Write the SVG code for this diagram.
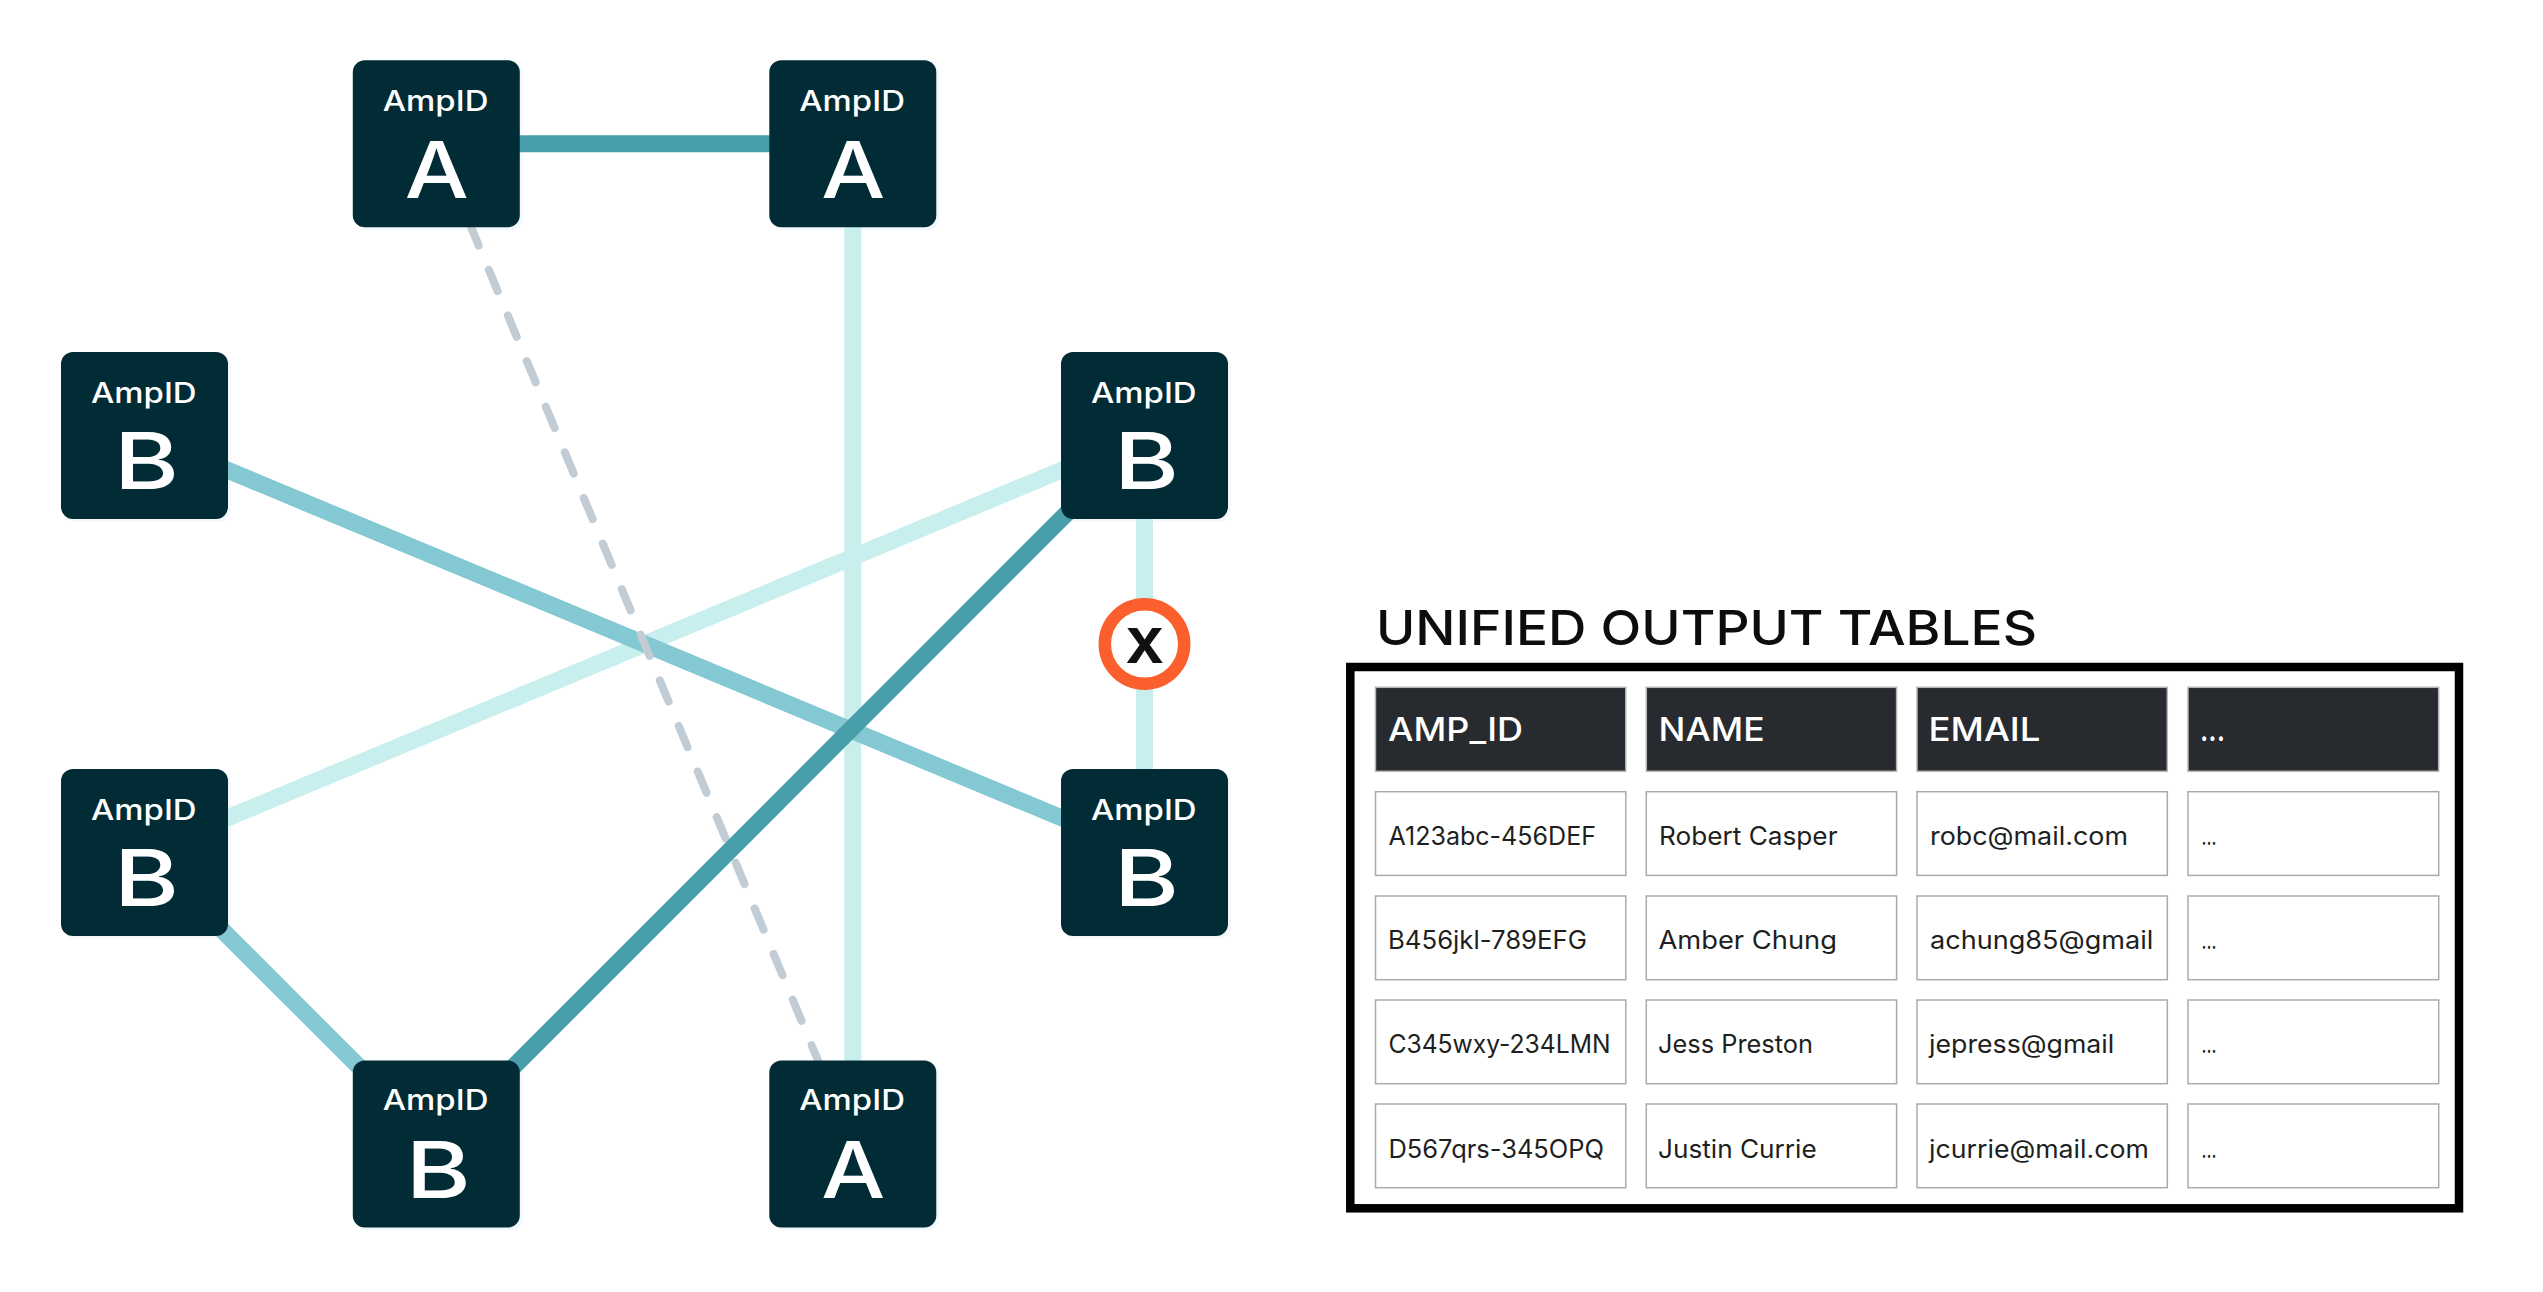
<svg xmlns="http://www.w3.org/2000/svg" width="2543" height="1292" viewBox="0 0 2543 1292">
<style>
text{font-family:"Inter","Liberation Sans",sans-serif}
.c{fill:none;stroke-width:17}
.dk{stroke:#489eab}.md{stroke:#83c8d2}.lt{stroke:#c8efed}
.ds{stroke:#c2ccd5;stroke-width:8;stroke-linecap:round;stroke-dasharray:23 26.4;stroke-dashoffset:-37.9;fill:none}
.n{fill:#022c35}.sh{fill:#f4f8fa}
.l1{fill:#fff;font-size:28px;font-weight:500;text-anchor:middle}
.l2{fill:#fff;font-size:79px;font-weight:500;text-anchor:middle}
.box{fill:none;stroke:#000;stroke-width:8.5}
.hc{fill:#272b2f;stroke:#b5b5b5;stroke-width:1.5}
.bc{fill:#fff;stroke:#aaa;stroke-width:1.5}
.ht{fill:#fff;font-size:33px;font-weight:500}
.bt{fill:#1d1f21;font-size:25px;font-weight:400}
.tt{fill:#0d0d0d;font-size:48px;font-weight:550}
</style>
<rect width="2543" height="1292" fill="#fff"/>
<g id="node-shadows">
<rect class="sh" x="355.8" y="63.3" width="167" height="167" rx="12"/><rect class="sh" x="772.3" y="63.3" width="167" height="167" rx="12"/><rect class="sh" x="64" y="355" width="167" height="167" rx="12"/><rect class="sh" x="1064" y="355" width="167" height="167" rx="12"/><rect class="sh" x="64" y="772" width="167" height="167" rx="12"/><rect class="sh" x="1064" y="772" width="167" height="167" rx="12"/><rect class="sh" x="355.8" y="1063.5" width="167" height="167" rx="12"/><rect class="sh" x="772.3" y="1063.5" width="167" height="167" rx="12"/>
</g>
<g id="connectors">
<line class="c lt" x1="852.8" y1="143.7" x2="852.8" y2="1144"/>
<line class="c lt" x1="144.5" y1="852.5" x2="1144.5" y2="435.5"/>
<line class="c lt" x1="1144.5" y1="435.5" x2="1144.5" y2="852.5"/>
<line class="c md" x1="144.5" y1="435.5" x2="1144.5" y2="852.5"/>
<line class="c md" x1="144.5" y1="852.5" x2="436.3" y2="1144"/>
<line class="ds" x1="436.3" y1="143.7" x2="852.8" y2="1144"/>
<line class="c dk" x1="436.3" y1="143.7" x2="852.8" y2="143.7"/>
<line class="c dk" x1="1144.5" y1="435.5" x2="436.3" y2="1144"/>
</g>
<g id="node-a1"><rect class="n" x="352.8" y="60.3" width="167" height="167" rx="12"/><text class="l1" x="435.6" y="110.5" textLength="105.6" lengthAdjust="spacingAndGlyphs">AmpID</text><text class="l2" x="436.8" y="197.7" textLength="64" lengthAdjust="spacingAndGlyphs">A</text></g>
<g id="node-a2"><rect class="n" x="769.3" y="60.3" width="167" height="167" rx="12"/><text class="l1" x="852.1" y="110.5" textLength="105.6" lengthAdjust="spacingAndGlyphs">AmpID</text><text class="l2" x="853.3" y="197.7" textLength="64" lengthAdjust="spacingAndGlyphs">A</text></g>
<g id="node-b1"><rect class="n" x="61" y="352" width="167" height="167" rx="12"/><text class="l1" x="143.8" y="402.5" textLength="105.6" lengthAdjust="spacingAndGlyphs">AmpID</text><text class="l2" x="146.5" y="489.3" textLength="65" lengthAdjust="spacingAndGlyphs">B</text></g>
<g id="node-b2"><rect class="n" x="1061" y="352" width="167" height="167" rx="12"/><text class="l1" x="1143.8" y="402.5" textLength="105.6" lengthAdjust="spacingAndGlyphs">AmpID</text><text class="l2" x="1146.5" y="489.3" textLength="65" lengthAdjust="spacingAndGlyphs">B</text></g>
<g id="node-b3"><rect class="n" x="61" y="769" width="167" height="167" rx="12"/><text class="l1" x="143.8" y="819.5" textLength="105.6" lengthAdjust="spacingAndGlyphs">AmpID</text><text class="l2" x="146.5" y="906.3" textLength="65" lengthAdjust="spacingAndGlyphs">B</text></g>
<g id="node-b4"><rect class="n" x="1061" y="769" width="167" height="167" rx="12"/><text class="l1" x="1143.8" y="819.5" textLength="105.6" lengthAdjust="spacingAndGlyphs">AmpID</text><text class="l2" x="1146.5" y="906.3" textLength="65" lengthAdjust="spacingAndGlyphs">B</text></g>
<g id="node-b5"><rect class="n" x="352.8" y="1060.5" width="167" height="167" rx="12"/><text class="l1" x="435.6" y="1110.4" textLength="105.6" lengthAdjust="spacingAndGlyphs">AmpID</text><text class="l2" x="438.3" y="1197.7" textLength="65" lengthAdjust="spacingAndGlyphs">B</text></g>
<g id="node-a3"><rect class="n" x="769.3" y="1060.5" width="167" height="167" rx="12"/><text class="l1" x="852.1" y="1110.4" textLength="105.6" lengthAdjust="spacingAndGlyphs">AmpID</text><text class="l2" x="853.3" y="1197.7" textLength="64" lengthAdjust="spacingAndGlyphs">A</text></g>
<g id="break-x"><circle cx="1144.5" cy="644" r="39.7" fill="#fff" stroke="#fb5f2e" stroke-width="12.5"/><text x="1144.8" y="662.7" text-anchor="middle" font-size="66" font-weight="700" fill="#111" style="font-family:'Liberation Sans',sans-serif" textLength="37" lengthAdjust="spacingAndGlyphs">x</text></g>
<g id="table">
<text class="tt" x="1376" y="645" textLength="661" lengthAdjust="spacingAndGlyphs">UNIFIED OUTPUT TABLES</text>
<rect class="box" x="1350.3" y="667" width="1108.7" height="541.3"/>
<rect class="hc" x="1375.5" y="687.3" width="250.3" height="84"/><rect class="hc" x="1646.3" y="687.3" width="250.3" height="84"/><rect class="hc" x="1917" y="687.3" width="250.3" height="84"/><rect class="hc" x="2188" y="687.3" width="250.7" height="84"/>
<text class="ht" x="1388" y="741" textLength="135" lengthAdjust="spacingAndGlyphs">AMP_ID</text><text class="ht" x="1658.6" y="741" textLength="106" lengthAdjust="spacingAndGlyphs">NAME</text><text class="ht" x="1928.5" y="741" textLength="112" lengthAdjust="spacingAndGlyphs">EMAIL</text><text class="ht" x="2200" y="741" textLength="25" lengthAdjust="spacingAndGlyphs">...</text>
<rect class="bc" x="1375.5" y="791.7" width="250.3" height="83.7"/><rect class="bc" x="1646.3" y="791.7" width="250.3" height="83.7"/><rect class="bc" x="1917" y="791.7" width="250.3" height="83.7"/><rect class="bc" x="2188" y="791.7" width="250.7" height="83.7"/>
<rect class="bc" x="1375.5" y="896" width="250.3" height="83.7"/><rect class="bc" x="1646.3" y="896" width="250.3" height="83.7"/><rect class="bc" x="1917" y="896" width="250.3" height="83.7"/><rect class="bc" x="2188" y="896" width="250.7" height="83.7"/>
<rect class="bc" x="1375.5" y="1000" width="250.3" height="83.7"/><rect class="bc" x="1646.3" y="1000" width="250.3" height="83.7"/><rect class="bc" x="1917" y="1000" width="250.3" height="83.7"/><rect class="bc" x="2188" y="1000" width="250.7" height="83.7"/>
<rect class="bc" x="1375.5" y="1104" width="250.3" height="83.7"/><rect class="bc" x="1646.3" y="1104" width="250.3" height="83.7"/><rect class="bc" x="1917" y="1104" width="250.3" height="83.7"/><rect class="bc" x="2188" y="1104" width="250.7" height="83.7"/>
<text class="bt" x="1388.5" y="845" textLength="207.5" lengthAdjust="spacingAndGlyphs">A123abc-456DEF</text><text class="bt" x="1659" y="845" textLength="178.5" lengthAdjust="spacingAndGlyphs">Robert Casper</text><text class="bt" x="1930" y="845" textLength="198" lengthAdjust="spacingAndGlyphs">robc@mail.com</text><text class="bt" x="2201.6" y="845" textLength="15" lengthAdjust="spacingAndGlyphs">...</text>
<text class="bt" x="1388" y="949" textLength="199" lengthAdjust="spacingAndGlyphs">B456jkl-789EFG</text><text class="bt" x="1658.4" y="949" textLength="178.6" lengthAdjust="spacingAndGlyphs">Amber Chung</text><text class="bt" x="1930" y="949" textLength="223.3" lengthAdjust="spacingAndGlyphs">achung85@gmail</text><text class="bt" x="2201.6" y="949" textLength="15" lengthAdjust="spacingAndGlyphs">...</text>
<text class="bt" x="1388.4" y="1053" textLength="222.2" lengthAdjust="spacingAndGlyphs">C345wxy-234LMN</text><text class="bt" x="1658" y="1053" textLength="155" lengthAdjust="spacingAndGlyphs">Jess Preston</text><text class="bt" x="1929" y="1053" textLength="185.3" lengthAdjust="spacingAndGlyphs">jepress@gmail</text><text class="bt" x="2201.6" y="1053" textLength="15" lengthAdjust="spacingAndGlyphs">...</text>
<text class="bt" x="1388.4" y="1158" textLength="215.6" lengthAdjust="spacingAndGlyphs">D567qrs-345OPQ</text><text class="bt" x="1658" y="1158" textLength="158.7" lengthAdjust="spacingAndGlyphs">Justin Currie</text><text class="bt" x="1929" y="1158" textLength="219.8" lengthAdjust="spacingAndGlyphs">jcurrie@mail.com</text><text class="bt" x="2201.6" y="1158" textLength="15" lengthAdjust="spacingAndGlyphs">...</text>
</g>
</svg>
